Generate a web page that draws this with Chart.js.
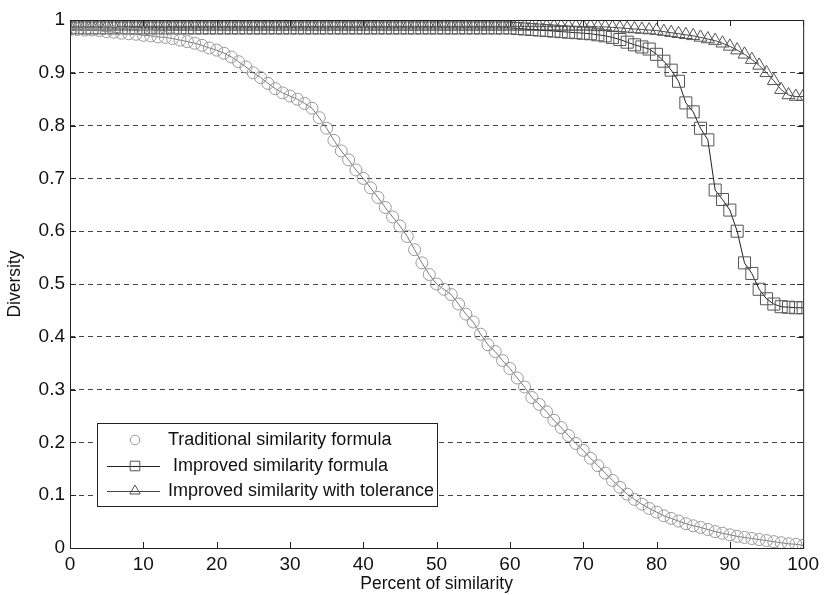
<!DOCTYPE html>
<html>
<head>
<meta charset="utf-8">
<title>Diversity vs percent of similarity</title>
<script src="https://cdn.jsdelivr.net/npm/chart.js@4.4.1/dist/chart.umd.min.js"></script>
<style>
  html, body { margin: 0; padding: 0; background: #fff; }
  #wrap { width: 824px; height: 595px; }
</style>
</head>
<body>
<div id="wrap"><canvas id="chart" width="824" height="595"></canvas></div>
<script>
// x values (percent of similarity), one sample per unit
let percent = [];
for (let i = 0; i <= 100; i++) percent.push(i);

let traditional = [
  0.982, 0.982, 0.981, 0.981, 0.980, 0.978, 0.977, 0.975, 0.974, 0.973,
  0.971, 0.970, 0.968, 0.967, 0.965, 0.962, 0.959, 0.956, 0.952, 0.947,
  0.943, 0.937, 0.930, 0.921, 0.911, 0.900, 0.891, 0.880, 0.870, 0.862,
  0.856, 0.850, 0.842, 0.833, 0.815, 0.795, 0.772, 0.752, 0.735, 0.716,
  0.700, 0.682, 0.664, 0.645, 0.627, 0.610, 0.590, 0.565, 0.540, 0.518,
  0.500, 0.490, 0.480, 0.462, 0.443, 0.428, 0.405, 0.385, 0.372, 0.355,
  0.340, 0.322, 0.305, 0.285, 0.272, 0.258, 0.242, 0.228, 0.213, 0.198,
  0.185, 0.170, 0.156, 0.142, 0.128, 0.115, 0.102, 0.092, 0.083, 0.075,
  0.068, 0.061, 0.056, 0.051, 0.046, 0.042, 0.039, 0.035, 0.031, 0.028,
  0.025, 0.022, 0.020, 0.018, 0.016, 0.014, 0.012, 0.010, 0.008, 0.007,
  0.005
];

let improved = [
  0.985, 0.985, 0.985, 0.985, 0.985, 0.985, 0.985, 0.985, 0.985, 0.985,
  0.985, 0.985, 0.985, 0.985, 0.985, 0.985, 0.985, 0.985, 0.985, 0.985,
  0.985, 0.985, 0.985, 0.985, 0.985, 0.985, 0.985, 0.985, 0.985, 0.985,
  0.985, 0.985, 0.985, 0.985, 0.985, 0.985, 0.985, 0.985, 0.985, 0.985,
  0.985, 0.985, 0.985, 0.985, 0.985, 0.985, 0.985, 0.985, 0.985, 0.985,
  0.985, 0.985, 0.985, 0.985, 0.985, 0.985, 0.985, 0.985, 0.985, 0.985,
  0.985, 0.984, 0.983, 0.982, 0.981, 0.980, 0.979, 0.978, 0.977, 0.976,
  0.975, 0.974, 0.972, 0.970, 0.967, 0.963, 0.958, 0.953, 0.949, 0.945,
  0.935, 0.922, 0.905, 0.884, 0.843, 0.826, 0.795, 0.773, 0.678, 0.660,
  0.640, 0.600, 0.540, 0.520, 0.490, 0.472, 0.462, 0.457, 0.456, 0.455,
  0.455
];

let tolerance = [
  0.988, 0.988, 0.988, 0.988, 0.988, 0.988, 0.988, 0.988, 0.988, 0.988,
  0.988, 0.988, 0.988, 0.988, 0.988, 0.988, 0.988, 0.988, 0.988, 0.988,
  0.988, 0.988, 0.988, 0.988, 0.988, 0.988, 0.988, 0.988, 0.988, 0.988,
  0.988, 0.988, 0.988, 0.988, 0.988, 0.988, 0.988, 0.988, 0.988, 0.988,
  0.988, 0.988, 0.988, 0.988, 0.988, 0.988, 0.988, 0.988, 0.988, 0.988,
  0.988, 0.988, 0.988, 0.988, 0.988, 0.988, 0.988, 0.988, 0.988, 0.988,
  0.988, 0.988, 0.988, 0.988, 0.988, 0.988, 0.988, 0.988, 0.988, 0.988,
  0.988, 0.988, 0.987, 0.987, 0.986, 0.985, 0.984, 0.983, 0.982, 0.981,
  0.980, 0.978, 0.976, 0.974, 0.972, 0.970, 0.967, 0.964, 0.961, 0.956,
  0.950, 0.943, 0.935, 0.925, 0.914, 0.900, 0.885, 0.868, 0.858, 0.855,
  0.855
];

let seriesNames = [
  'Traditional similarity formula',
  ' Improved similarity formula',
  'Improved similarity with tolerance'
];

let xTicks = [0, 10, 20, 30, 40, 50, 60, 70, 80, 90, 100];
let yTicks = [0, 0.1, 0.2, 0.3, 0.4, 0.5, 0.6, 0.7, 0.8, 0.9, 1];

const FONT = '"Liberation Sans", Arial, sans-serif';

function toPoints(values) {
  return values.map((v, i) => ({ x: percent[i], y: v }));
}

// frame box with inward ticks, matlab style
const framePlugin = {
  id: 'frame',
  afterDatasetsDraw(chart) {
    let ctx = chart.ctx;
    let a = chart.chartArea;
    let xs = chart.scales.x;
    let ys = chart.scales.y;
    ctx.save();
    ctx.strokeStyle = '#222';
    ctx.lineWidth = 1;
    ctx.strokeRect(a.left + 0.5, a.top + 0.5, a.right - a.left, a.bottom - a.top);
    ctx.beginPath();
    xTicks.forEach(t => {
      let px = Math.round(xs.getPixelForValue(t)) + 0.5;
      ctx.moveTo(px, a.bottom); ctx.lineTo(px, a.bottom - 6);
      ctx.moveTo(px, a.top); ctx.lineTo(px, a.top + 6);
    });
    yTicks.forEach(t => {
      let py = Math.round(ys.getPixelForValue(t)) + 0.5;
      ctx.moveTo(a.left, py); ctx.lineTo(a.left + 6, py);
      ctx.moveTo(a.right, py); ctx.lineTo(a.right - 6, py);
    });
    ctx.stroke();
    ctx.restore();
  }
};

// legend box in the lower left of the plot
const legendPlugin = {
  id: 'boxLegend',
  afterDraw(chart) {
    let ctx = chart.ctx;
    let bx = 97, by = 423, bw = 340, bh = 83;
    let rows = [440, 466, 491];
    ctx.save();
    ctx.fillStyle = '#fff';
    ctx.fillRect(bx, by, bw, bh);
    ctx.strokeStyle = '#222';
    ctx.lineWidth = 1;
    ctx.strokeRect(bx + 0.5, by + 0.5, bw, bh);
    chart.data.datasets.forEach((ds, i) => {
      let y = rows[i];
      if (i > 0) {
        ctx.strokeStyle = ds.borderColor;
        ctx.lineWidth = 1;
        ctx.beginPath();
        ctx.moveTo(107, y + 0.5);
        ctx.lineTo(160, y + 0.5);
        ctx.stroke();
      }
      ctx.strokeStyle = ds.pointBorderColor;
      ctx.fillStyle = 'rgba(0,0,0,0)';
      ctx.lineWidth = 1;
      Chart.helpers.drawPoint(ctx, { pointStyle: ds.pointStyle, radius: ds.pointRadius * 0.8, rotation: 0, borderWidth: 1 }, 135, y);
      ctx.fillStyle = '#111';
      ctx.font = '18px ' + FONT;
      ctx.textBaseline = 'middle';
      ctx.textAlign = 'left';
      ctx.fillText(seriesNames[i], 168, y);
    });
    ctx.restore();
  }
};

function displayChart() {
  let ctx = document.getElementById('chart').getContext('2d');
  new Chart(ctx, {
    type: 'line',
    data: {
      datasets: [
        {
          label: seriesNames[0],
          data: toPoints(traditional),
          borderColor: '#777',
          borderWidth: 1,
          pointStyle: 'circle',
          pointRadius: 6,
          pointBorderColor: '#999',
          pointBackgroundColor: 'rgba(0,0,0,0)',
          pointBorderWidth: 1,
          fill: false,
          tension: 0
        },
        {
          label: seriesNames[1],
          data: toPoints(improved),
          borderColor: '#222',
          borderWidth: 1,
          pointStyle: 'rect',
          pointRadius: 8.5,
          pointBorderColor: '#555',
          pointBackgroundColor: 'rgba(0,0,0,0)',
          pointBorderWidth: 1,
          fill: false,
          tension: 0
        },
        {
          label: seriesNames[2],
          data: toPoints(tolerance),
          borderColor: '#444',
          borderWidth: 1,
          pointStyle: 'triangle',
          pointRadius: 7.5,
          pointBorderColor: '#555',
          pointBackgroundColor: 'rgba(0,0,0,0)',
          pointBorderWidth: 1,
          fill: false,
          tension: 0
        }
      ]
    },
    options: {
      responsive: false,
      animation: false,
      events: [],
      layout: { padding: { top: 20, right: 16, left: 0, bottom: 0 } },
      plugins: {
        legend: { display: false },
        tooltip: { enabled: false }
      },
      scales: {
        x: {
          type: 'linear',
          min: 0,
          max: 100,
          afterFit(s) { s.height = 47; },
          afterBuildTicks(s) { s.ticks = xTicks.map(v => ({ value: v })); },
          grid: { display: false, drawTicks: false },
          border: { display: false },
          ticks: { color: '#111', font: { family: FONT, size: 19 }, padding: 5, maxRotation: 0 },
          title: {
            display: true,
            text: 'Percent of similarity',
            color: '#111',
            font: { family: FONT, size: 17.5 },
            padding: { top: 0, bottom: 0 }
          }
        },
        y: {
          type: 'linear',
          min: 0,
          max: 1,
          afterFit(s) { s.width = 70; },
          afterBuildTicks(s) { s.ticks = yTicks.map(v => ({ value: v })); },
          grid: {
            drawTicks: false,
            color: c => (c.tick && (c.tick.value === 0 || c.tick.value === 1)) ? 'rgba(0,0,0,0)' : '#444',
            lineWidth: 1
          },
          border: { display: false, dash: [5, 4] },
          ticks: {
            color: '#111',
            font: { family: FONT, size: 19 },
            padding: 5,
            callback: v => String(Math.round(v * 10) / 10)
          },
          title: {
            display: true,
            text: 'Diversity',
            color: '#111',
            font: { family: FONT, size: 17.5 },
            padding: { top: 5, bottom: 0 }
          }
        }
      }
    },
    plugins: [framePlugin, legendPlugin]
  });
}

displayChart();
</script>
</body>
</html>
